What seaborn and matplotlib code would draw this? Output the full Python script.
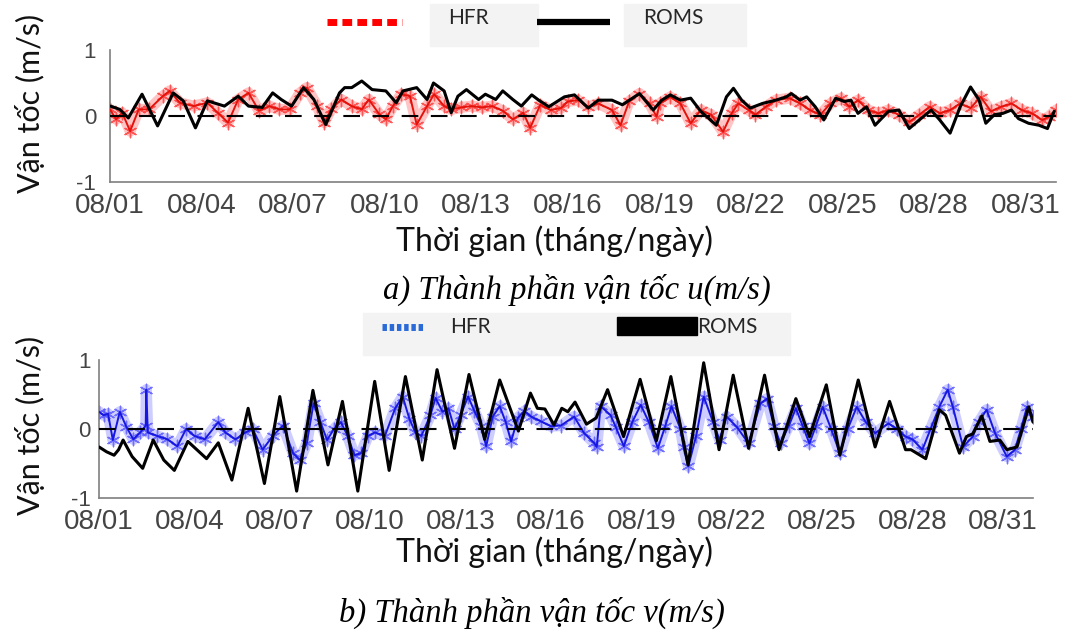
import matplotlib
matplotlib.use('Agg')
import matplotlib.pyplot as plt
import seaborn as sns
from matplotlib.lines import Line2D
from matplotlib.patches import Rectangle


# 1. Data (x = day of August, y = velocity m/s)
tick_days = [1, 4, 7, 10, 13, 16, 19, 22, 25, 28, 31]
tick_labels = ['08/01', '08/04', '08/07', '08/10', '08/13', '08/16',
               '08/19', '08/22', '08/25', '08/28', '08/31']

# u component, ROMS (black)
roms_u_day = [1.02, 1.32, 1.6, 2.05, 2.56, 3.07, 3.4, 3.8, 4.19, 4.75,
              5.2, 5.54, 5.99, 6.33, 6.61, 6.95, 7.34, 7.68, 8.07, 8.52,
              8.69, 8.92, 9.25, 9.59, 10.04, 10.38, 10.6, 11.05, 11.39, 11.6,
              11.95, 12.18, 12.4, 12.68, 13.08, 13.3, 13.64, 13.87, 14.2, 14.48,
              14.82, 15.05, 15.38, 15.89, 16.22, 16.67, 17.0, 17.45, 17.79, 18.35,
              18.8, 19.08, 19.36, 19.69, 20.03, 20.36, 20.87, 21.2, 21.43, 21.7,
              21.98, 22.38, 22.82, 23.16, 23.33, 23.61, 23.83, 24.11, 24.39, 24.78,
              25.06, 25.28, 25.51, 25.79, 26.07, 26.51, 26.85, 27.19, 27.52, 27.91,
              28.19, 28.53, 28.86, 29.2, 29.48, 29.7, 29.98, 30.26, 30.54, 30.77,
              31.1, 31.44, 31.72, 31.94]
roms_u = [0.15, 0.10, -0.03, 0.33, -0.15, 0.35, 0.23, -0.18, 0.23, 0.15,
          0.30, 0.15, 0.13, 0.35, 0.25, 0.15, 0.43, 0.25, -0.13, 0.35,
          0.43, 0.43, 0.53, 0.40, 0.38, 0.20, 0.38, 0.43, 0.25, 0.50,
          0.38, 0.05, 0.30, 0.40, 0.25, 0.33, 0.25, 0.38, 0.25, 0.15,
          0.32, 0.24, 0.14, 0.29, 0.32, 0.12, 0.24, 0.24, 0.17, 0.34,
          0.09, 0.24, 0.32, 0.24, 0.27, 0.07, -0.14, 0.29, 0.42, 0.24,
          0.12, 0.19, 0.24, 0.29, 0.34, 0.24, 0.29, 0.14, -0.06, 0.27,
          0.22, 0.24, 0.04, 0.14, -0.14, 0.07, 0.09, -0.19, -0.06, 0.09,
          -0.06, -0.26, 0.14, 0.44, 0.24, -0.11, 0.02, 0.04, 0.09, -0.04,
          -0.11, -0.14, -0.19, 0.07]

# u component, HFR (red)
hfr_u_day = [1.0, 1.2, 1.4, 1.66, 1.94, 2.28, 2.73, 2.95, 3.29, 3.74,
             4.19, 4.53, 4.87, 5.2, 5.54, 5.88, 6.22, 6.55, 6.89, 7.23,
             7.45, 7.79, 8.02, 8.24, 8.58, 8.92, 9.25, 9.48, 9.82, 10.04,
             10.27, 10.55, 10.83, 11.05, 11.39, 11.62, 11.95, 12.18, 12.51, 12.85,
             13.19, 13.53, 13.87, 14.2, 14.54, 14.77, 15.1, 15.44, 15.78, 16.0,
             16.34, 16.67, 17.0, 17.45, 17.73, 18.01, 18.35, 18.68, 18.91, 19.02,
             19.36, 19.69, 20.03, 20.36, 20.7, 21.09, 21.37, 21.59, 21.93, 22.15,
             22.49, 22.82, 23.27, 23.61, 23.94, 24.28, 24.61, 24.95, 25.23, 25.51,
             25.84, 26.18, 26.51, 26.85, 27.19, 27.52, 27.86, 28.19, 28.53, 28.86,
             29.2, 29.53, 29.87, 30.2, 30.54, 30.88, 31.21, 31.55, 31.77, 32.0]
hfr_u = [0.10, -0.05, 0.05, -0.23, 0.10, 0.10, 0.30, 0.38, 0.20, 0.15,
         0.20, 0.05, -0.10, 0.25, 0.35, 0.08, 0.15, 0.10, 0.10, 0.35,
         0.43, 0.15, -0.10, 0.10, 0.25, 0.15, 0.10, 0.25, 0.03, -0.05,
         0.15, 0.33, 0.30, -0.13, 0.15, 0.33, 0.15, 0.10, 0.13, 0.15,
         0.13, 0.15, 0.08, -0.05, 0.05, -0.18, 0.17, 0.09, 0.12, 0.22,
         0.24, 0.14, 0.19, 0.09, -0.14, 0.22, 0.34, 0.19, -0.01, 0.19,
         0.29, 0.19, -0.11, 0.09, 0.02, -0.24, 0.04, 0.19, 0.09, 0.02,
         0.14, 0.24, 0.27, 0.19, 0.09, 0.02, 0.19, 0.27, 0.14, 0.24,
         0.09, 0.04, 0.09, 0.02, -0.09, 0.02, 0.14, 0.04, 0.09, 0.19,
         0.12, 0.29, 0.07, 0.14, 0.19, 0.09, 0.04, -0.06, -0.01, 0.09]

# v component, ROMS (black)
roms_v_day = [1.0, 1.25, 1.5, 1.65, 1.8, 2.1, 2.45, 2.8, 3.15, 3.5,
              3.95, 4.57, 4.96, 5.41, 5.95, 6.49, 7.0, 7.56, 8.1, 8.6,
              9.08, 9.59, 10.15, 10.63, 11.17, 11.73, 12.22, 12.8, 13.28, 13.8,
              14.3, 14.92, 15.32, 15.55, 15.8, 16.1, 16.36, 16.56, 16.8, 17.18,
              17.5, 17.88, 18.41, 18.96, 19.5, 19.98, 20.55, 21.07, 21.58, 22.05,
              22.56, 23.09, 23.57, 24.13, 24.58, 25.14, 25.59, 26.2, 26.76, 27.24,
              27.77, 27.95, 28.44, 28.89, 29.1, 29.56, 29.79, 30.0, 30.3, 30.57,
              30.9, 31.13, 31.47, 31.86, 32.0]
roms_v = [-0.26, -0.33, -0.38, -0.30, -0.16, -0.40, -0.57, -0.16, -0.45, -0.60,
          -0.18, -0.43, -0.20, -0.74, 0.30, -0.79, 0.47, -0.90, 0.56, -0.52,
          0.40, -0.90, 0.69, -0.60, 0.76, -0.45, 0.86, -0.28, 0.79, -0.15,
          0.71, -0.03, 0.52, 0.30, 0.29, 0.06, 0.30, 0.25, 0.39, 0.07,
          0.16, 0.57, -0.11, 0.72, -0.17, 0.76, -0.52, 0.96, -0.30, 0.78,
          -0.28, 0.78, -0.30, 0.44, -0.11, 0.64, -0.38, 0.71, -0.26, 0.40,
          -0.30, -0.30, -0.43, 0.28, 0.20, -0.35, -0.11, -0.07, 0.19, -0.18,
          -0.16, -0.30, -0.26, 0.32, 0.10]

# v component, HFR (blue)
hfr_v_day = [1.0, 1.15, 1.3, 1.46, 1.69, 1.91, 2.14, 2.37, 2.55, 2.57,
             2.62, 2.93, 3.27, 3.6, 3.89, 4.17, 4.51, 4.96, 5.19, 5.53,
             5.86, 6.1, 6.43, 6.77, 7.1, 7.44, 7.67, 7.9, 8.12, 8.35,
             8.57, 8.8, 9.03, 9.25, 9.48, 9.7, 9.93, 10.15, 10.49, 10.83,
             11.08, 11.3, 11.5, 11.7, 12.0, 12.17, 12.4, 12.6, 12.8, 13.0,
             13.25, 13.46, 13.68, 13.85, 14.07, 14.3, 14.5, 14.68, 14.9, 15.12,
             15.34, 15.67, 16.0, 16.33, 16.77, 17.1, 17.43, 17.52, 17.65, 17.98,
             18.15, 18.42, 18.7, 18.98, 19.25, 19.55, 19.8, 20.0, 20.3, 20.4,
             20.56, 20.82, 21.07, 21.38, 21.6, 21.83, 22.17, 22.56, 22.95, 23.17,
             23.4, 23.62, 23.9, 24.13, 24.35, 24.58, 24.8, 25.02, 25.3, 25.59,
             25.85, 26.15, 26.45, 26.76, 27.2, 27.5, 27.77, 28.0, 28.33, 28.6,
             28.89, 29.17, 29.34, 29.68, 30.0, 30.2, 30.46, 30.74, 31.13, 31.4,
             31.6, 31.8, 32.0]
hfr_v = [0.25, 0.20, 0.22, -0.16, 0.25, 0.03, -0.15, -0.05, 0.05, 0.57,
         -0.05, -0.10, -0.15, -0.25, 0.00, -0.10, -0.15, 0.10, -0.05, -0.15,
         -0.05, 0.00, -0.30, -0.10, 0.05, -0.35, -0.45, -0.20, 0.37, 0.10,
         -0.16, 0.00, 0.10, -0.10, -0.38, -0.35, -0.10, -0.05, -0.10, 0.30,
         0.47, 0.15, -0.05, -0.10, 0.20, 0.45, 0.25, 0.30, 0.00, 0.20,
         0.47, 0.26, 0.05, -0.25, 0.18, 0.33, 0.10, -0.18, 0.16, 0.26,
         0.18, 0.11, 0.04, 0.05, 0.18, -0.06, -0.20, -0.26, 0.33, 0.20,
         0.03, -0.25, 0.10, 0.35, 0.10, -0.28, 0.05, 0.33, 0.00, -0.26,
         -0.54, -0.10, 0.47, 0.10, -0.16, 0.18, 0.03, -0.21, 0.37, 0.44,
         0.05, -0.21, 0.05, 0.30, 0.05, -0.21, 0.05, 0.32, 0.00, -0.35,
         0.00, 0.32, 0.10, -0.06, 0.08, 0.00, -0.11, -0.15, -0.30, 0.00,
         0.32, 0.57, 0.32, -0.26, -0.11, 0.10, 0.28, -0.06, -0.40, -0.30,
         0.00, 0.32, 0.18]


# 2. Figure setup
W, H = 1067, 639
sns.set_style('white')
sans = ['Lato', 'Noto Sans', 'DejaVu Sans']
tick_font = ['Liberation Sans', 'DejaVu Sans']
serif = ['Liberation Serif', 'DejaVu Serif']
axis_grey = '#7f7f7f'

fig = plt.figure(figsize=(W / 100, H / 100), dpi=100)


def fx(px):
    return px / W


def fy(py):
    return 1 - py / H


ax_u = fig.add_axes([fx(110), fy(182), 946 / W, 132 / H])
ax_v = fig.add_axes([fx(99), fy(498), 934 / W, 138 / H])


def draw_panel(ax, hfr_day, hfr, roms_day, roms, line_col, halo_col, ypad):
    # HFR: fuzzy halo + asterisks + thin line
    sns.lineplot(x=hfr_day, y=hfr, ax=ax, color=halo_col, lw=8, alpha=0.3,
                 estimator=None, sort=False, zorder=2, solid_joinstyle='round')
    sns.scatterplot(x=hfr_day, y=hfr, ax=ax, marker=(6, 2, 0), s=80,
                    color=halo_col, linewidth=1.0, alpha=0.85, zorder=2)
    sns.lineplot(x=hfr_day, y=hfr, ax=ax, color=line_col, lw=1.4,
                 estimator=None, sort=False, zorder=3)
    ax.axhline(0, color='black', lw=1.5, dashes=(8, 6), zorder=4)
    # ROMS
    sns.lineplot(x=roms_day, y=roms, ax=ax, color='black', lw=2.2,
                 estimator=None, sort=False, zorder=5, solid_joinstyle='round')

    ax.set_xlim(1, 32)
    ax.set_ylim(-1, 1)
    ax.set_xticks(tick_days)
    ax.set_xticklabels(tick_labels)
    ax.set_yticks([-1, 0, 1])
    ax.set_yticklabels(['-1', '0', '1'])
    ax.set_xlabel('')
    ax.set_ylabel('')
    for side in ['top', 'right']:
        ax.spines[side].set_visible(False)
    for side in ['left', 'bottom']:
        ax.spines[side].set_color(axis_grey)
        ax.spines[side].set_linewidth(1.2)
    ax.tick_params(axis='x', direction='in', length=4, color=axis_grey,
                   labelsize=20, labelcolor='#444444', pad=8)
    ax.tick_params(axis='y', direction='in', length=4, color=axis_grey,
                   labelsize=16, labelcolor='#444444', pad=ypad)
    for lab in ax.get_xticklabels() + ax.get_yticklabels():
        lab.set_family(tick_font)


# 3. Panels
draw_panel(ax_u, hfr_u_day, hfr_u, roms_u_day, roms_u, '#e3120b', '#ff4040', 10)
draw_panel(ax_v, hfr_v_day, hfr_v, roms_v_day, roms_v, '#1717e0', '#5c5cff', 6)

# Axis titles and captions
fig.text(fx(30), fy(103), 'Vận tốc (m/s)', rotation=90, ha='center', va='center',
         fontsize=22, family=sans, color='#111111')
fig.text(fx(30), fy(425), 'Vận tốc (m/s)', rotation=90, ha='center', va='center',
         fontsize=22, family=sans, color='#111111')
fig.text(fx(555), fy(241), 'Thời gian (tháng/ngày)', ha='center', va='center',
         fontsize=23, family=sans, color='#111111')
fig.text(fx(555), fy(552), 'Thời gian (tháng/ngày)', ha='center', va='center',
         fontsize=23, family=sans, color='#111111')
fig.text(fx(577), fy(290), 'a) Thành phần vận tốc u(m/s)', ha='center', va='center',
         fontsize=23.5, family=serif, style='italic', color='black')
fig.text(fx(532), fy(613), 'b) Thành phần vận tốc v(m/s)', ha='center', va='center',
         fontsize=23.5, family=serif, style='italic', color='black')

# 4. Legends (drawn as separate boxes, like in the source figure)
box_grey = '#f3f3f3'
fig.add_artist(Rectangle((fx(430), fy(46)), 108 / W, 42 / H, transform=fig.transFigure,
                         color=box_grey, zorder=0))
fig.add_artist(Rectangle((fx(624), fy(46)), 122 / W, 42 / H, transform=fig.transFigure,
                         color=box_grey, zorder=0))
fig.add_artist(Line2D([fx(327), fx(402)], [fy(22), fy(22)], transform=fig.transFigure,
                      color='#ff0000', lw=5, dashes=(1.4, 0.75)))
fig.add_artist(Line2D([fx(537), fx(610)], [fy(22), fy(22)], transform=fig.transFigure,
                      color='black', lw=4.5, solid_capstyle='butt'))
fig.text(fx(448), fy(18), 'HFR', ha='left', va='center', fontsize=15, family=sans)
fig.text(fx(643), fy(18), 'ROMS', ha='left', va='center', fontsize=15, family=sans)

fig.add_artist(Rectangle((fx(363), fy(355)), 427 / W, 42 / H, transform=fig.transFigure,
                         color=box_grey, zorder=0))
fig.add_artist(Line2D([fx(382), fx(425)], [fy(327), fy(327)], transform=fig.transFigure,
                      color='#2a6ad8', lw=5, dashes=(0.64, 0.4)))
fig.add_artist(Rectangle((fx(617), fy(335)), 80 / W, 18 / H, transform=fig.transFigure,
                         color='black'))
fig.text(fx(450), fy(327), 'HFR', ha='left', va='center', fontsize=15, family=sans)
fig.text(fx(697), fy(327), 'ROMS', ha='left', va='center', fontsize=15, family=sans)

# Save figure
fig.savefig('out.png', dpi=100)
